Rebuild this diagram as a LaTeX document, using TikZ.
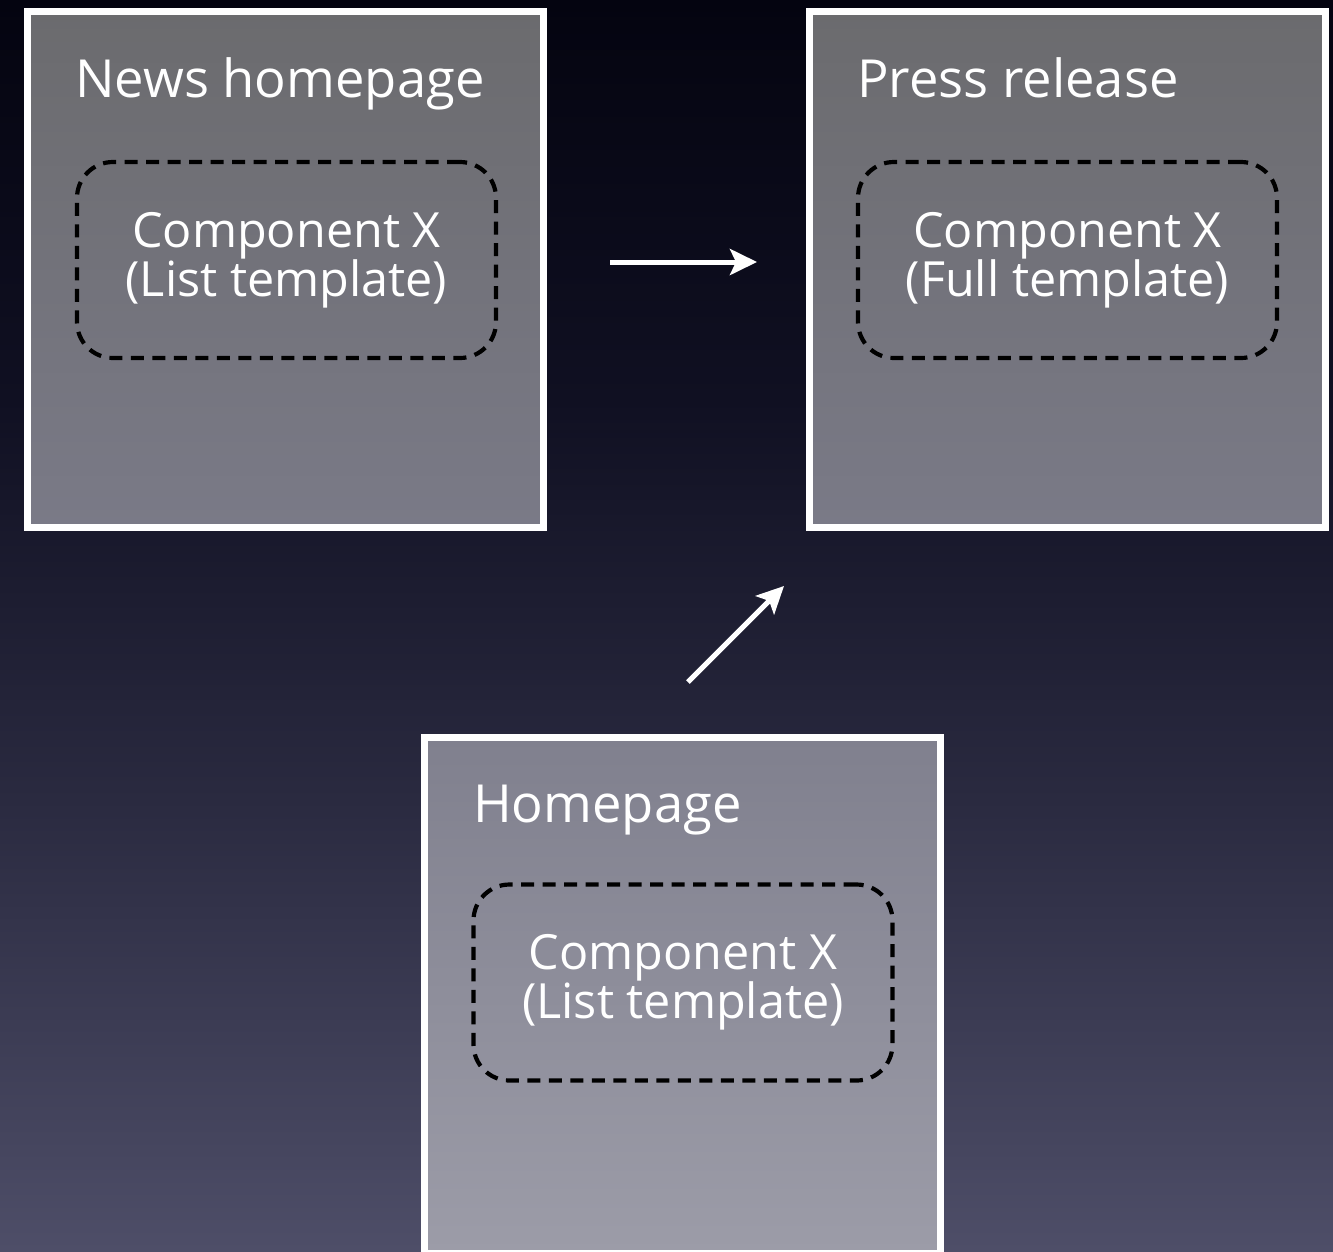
\documentclass[tikz,border=0pt]{standalone}
\usepackage{fontspec}
\setmainfont{Open Sans}
\usetikzlibrary{arrows.meta}
\definecolor{bgA}{RGB}{4,4,16}
\definecolor{bgB}{RGB}{16,16,34}
\definecolor{bgC}{RGB}{42,42,64}
\definecolor{bgD}{RGB}{78,78,104}
\definecolor{boxTop}{RGB}{107,107,110}
\definecolor{boxBot}{RGB}{122,122,135}
\definecolor{hboxTop}{RGB}{128,128,142}
\definecolor{hboxBot}{RGB}{156,156,168}
\tikzset{
  page/.style={draw=white, line width=7pt, minimum width=516pt, minimum height=516pt, inner sep=0pt},
  comp/.style={draw=black, line width=4.2pt, dash pattern=on 13pt off 8.5pt, rounded corners=36pt, minimum width=419pt, minimum height=196pt, inner sep=0pt},
  titletxt/.style={text=white, anchor=base west, inner sep=0pt, font=\fontsize{52.5}{60}\selectfont},
  comptxt/.style={text=white, align=center, inner sep=0pt, font=\fontsize{48.5}{49}\selectfont},
  flow/.style={draw=white, line width=5pt, -{Stealth[length=27pt,width=26pt,inset=6pt]}}
}
\begin{document}
\begin{tikzpicture}[x=1pt,y=-1pt]
\useasboundingbox (0,0) rectangle (1333,1251);
\clip (0,0) rectangle (1333,1251);
% background
\shade[top color=bgA, bottom color=bgB] (0,0) rectangle (1333,400);
\shade[top color=bgB, bottom color=bgC] (0,399.5) rectangle (1333,800);
\shade[top color=bgC, bottom color=bgD] (0,799.5) rectangle (1333,1251);
% pages
\node[page, top color=boxTop, bottom color=boxBot] (news) at (285,269) {};
\node[page, top color=boxTop, bottom color=boxBot] (press) at (1067.5,269) {};
\node[page, top color=hboxTop, bottom color=hboxBot] (home) at (682.5,995) {};
% components
\node[comp] (c1) at (286.5,260) {};
\node[comp] (c2) at (1067.5,260) {};
\node[comp] (c3) at (683,982.5) {};
% titles
\node[titletxt] (t1) at (75,97) {News homepage};
\node[titletxt] (t2) at (857,97) {Press release};
\node[titletxt] (t3) at (473,822) {Homepage};
% component texts
\node[comptxt] (x1) at (286.5,260) {Component X\\(List template)};
\node[comptxt] (x2) at (1067.5,260) {Component X\\(Full template)};
\node[comptxt] (x3) at (683,982.5) {Component X\\(List template)};
% arrows
\coordinate (a1s) at (610,262);
\coordinate (a1e) at (757,262);
\coordinate (a2s) at (688,682);
\coordinate (a2e) at (784,586);
\draw[flow] (a1s) -- (a1e);
\draw[flow] (a2s) -- (a2e);
\end{tikzpicture}
\end{document}
